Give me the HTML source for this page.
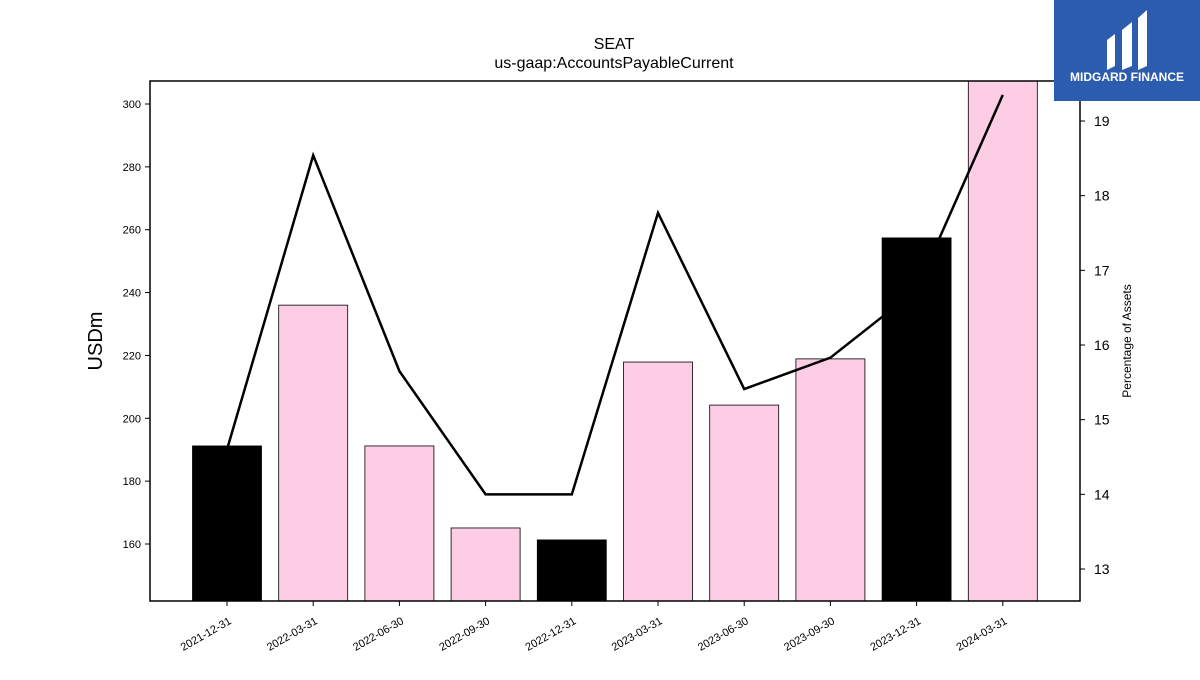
<!DOCTYPE html>
<html><head><meta charset="utf-8"><style>
body{margin:0;background:#fff;}
svg text{font-family:"Liberation Sans","DejaVu Sans",sans-serif;}
</style></head><body>
<svg id="chart" width="1200" height="675" xmlns="http://www.w3.org/2000/svg">
<rect width="1200" height="675" fill="#fff"/>
<text x="614" y="49" font-size="16" text-anchor="middle">SEAT</text>
<text x="614" y="68" font-size="16" text-anchor="middle">us-gaap:AccountsPayableCurrent</text>
<g id="bars"></g>
<g id="line"></g>
<rect x="150" y="81" width="930" height="520" fill="none" stroke="#000" stroke-width="1.5"/>
<g id="ticks"></g>
<text transform="translate(102,341) rotate(-90)" font-size="20" text-anchor="middle">USDm</text>
<text transform="translate(1131,341) rotate(-90)" font-size="12" text-anchor="middle">Percentage of Assets</text>
<g>
<rect x="1054" y="0" width="146" height="101" fill="#2b5cad"/>
<path d="M1107 40 L1115 34 L1115 66 L1107 70 Z M1122 30 L1132 22 L1132 66 L1122 70 Z M1138 18 L1147 10 L1147 66 L1138 70 Z" fill="#fff"/>
<text x="1127" y="81" font-size="12" font-weight="bold" fill="#fff" text-anchor="middle">MIDGARD FINANCE</text>
</g>
</svg>
<script>
const categories=["2021-12-31","2022-03-31","2022-06-30","2022-09-30","2022-12-31","2023-03-31","2023-06-30","2023-09-30","2023-12-31","2024-03-31"];
const payables=[191.2,236.0,191.2,165.1,161.3,217.9,204.2,218.9,257.4,312];
const pctAssets=[14.6,18.54,15.65,14.0,14.0,17.77,15.41,15.83,16.74,19.35];
const barColors=["#000","#fccde5","#fccde5","#fccde5","#000","#fccde5","#fccde5","#fccde5","#000","#fccde5"];
const leftTicks=[160,180,200,220,240,260,280,300];
const rightTicks=[13,14,15,16,17,18,19];
const NS="http://www.w3.org/2000/svg";
const X0=150,X1=1080,Y0=81,Y1=601;
const yL=v=>544-(v-160)*440/140;
const yR=v=>569-(v-13)*448/6;
const step=(X1-X0)/categories.length*0.928;
const xC=i=>227+i*86.2;
function mk(t,a,p){const e=document.createElementNS(NS,t);for(const k in a)e.setAttribute(k,a[k]);p.appendChild(e);return e;}
const bars=document.getElementById('bars');
payables.forEach((v,i)=>{
 const top=Math.max(Y0,yL(v));
 const r=mk('rect',{x:xC(i)-34.5,y:top,width:69,height:Y1-top,fill:barColors[i],stroke:'#000','stroke-width':0.8},bars);
 
 
});
const line=document.getElementById('line');
const pl=mk('polyline',{points:pctAssets.map((v,i)=>xC(i)+','+yR(v)).join(' '),fill:'none',stroke:'#000','stroke-width':2.5},line);


const tg=document.getElementById('ticks');
leftTicks.forEach(v=>{const y=yL(v);
 mk('line',{x1:X0-5,x2:X0,y1:y,y2:y,stroke:'#000'},tg);
 const t=mk('text',{x:X0-9,y:y+4,'font-size':11,'text-anchor':'end'},tg);t.textContent=v;
 
 });
rightTicks.forEach(v=>{const y=yR(v);
 mk('line',{x1:X1,x2:X1+5,y1:y,y2:y,stroke:'#000'},tg);
 const t=mk('text',{x:X1+14,y:y+5,'font-size':14},tg);t.textContent=v;
 
 });
categories.forEach((c,i)=>{const x=xC(i);
 mk('line',{x1:x,x2:x,y1:Y1,y2:Y1+5,stroke:'#000'},tg);
 const t=mk('text',{transform:`translate(${x+5},${Y1+22}) rotate(-30)`,'font-size':11,'text-anchor':'end'},tg);t.textContent=c;
 
 });
</script>
</body></html>
